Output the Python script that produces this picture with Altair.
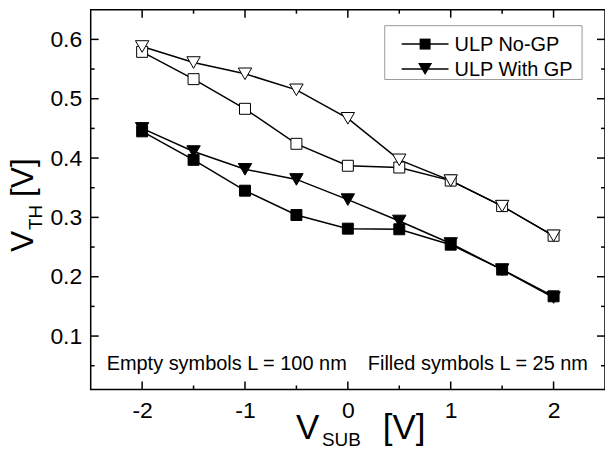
import altair as alt
import pandas as pd

# ---------------- data ----------------
x_vsub = [-2, -1.5, -1, -0.5, 0, 0.5, 1, 1.5, 2]
vth_nogp_100 = [0.579, 0.533, 0.483, 0.424, 0.387, 0.384, 0.362, 0.319, 0.269]
vth_gp_100 = [0.588, 0.561, 0.542, 0.515, 0.467, 0.397, 0.362, 0.319, 0.269]
vth_nogp_25 = [0.445, 0.397, 0.345, 0.304, 0.281, 0.280, 0.254, 0.212, 0.167]
vth_gp_25 = [0.450, 0.411, 0.381, 0.364, 0.330, 0.294, 0.256, 0.212, 0.165]
series_names = ["ULP No-GP", "ULP With GP"]
lengths = ["100 nm", "25 nm"]
x_major = [-2, -1, 0, 1, 2]
x_minor = [-1.5, -0.5, 0.5, 1.5]
y_major = [0.1, 0.2, 0.3, 0.4, 0.5, 0.6]
y_minor = [0.05, 0.15, 0.25, 0.35, 0.45, 0.55]
note_left = "Empty symbols L = 100 nm"
note_right = "Filled symbols L = 25 nm"

W, H = 516, 381
FONT = "Liberation Sans"

rows = []
for name, L, vals in [
    (series_names[0], lengths[0], vth_nogp_100),
    (series_names[1], lengths[0], vth_gp_100),
    (series_names[0], lengths[1], vth_nogp_25),
    (series_names[1], lengths[1], vth_gp_25),
]:
    for xv, yv in zip(x_vsub, vals):
        rows.append({"vsub": xv, "vth": yv, "series": name, "L": L, "key": name + " " + L})
df = pd.DataFrame(rows)

xs = alt.Scale(domain=[-2.5, 2.5], nice=False, zero=False)
ys = alt.Scale(domain=[0.01, 0.65], nice=False, zero=False)

x_axis = alt.Axis(values=x_major, labelExpr="'' + datum.value", ticks=False, domain=False,
                  grid=False, title=None, labelFont=FONT, labelFontSize=23,
                  labelColor="black", labelPadding=10)
y_axis = alt.Axis(values=y_major, labelExpr="format(datum.value, '.1f')", ticks=False,
                  domain=False, grid=False, title=None, labelFont=FONT, labelFontSize=23,
                  labelColor="black", labelPadding=9)

base = alt.Chart(df)
lines = base.mark_line(color="black", strokeWidth=1.5).encode(
    x=alt.X("vsub:Q", scale=xs, axis=x_axis),
    y=alt.Y("vth:Q", scale=ys, axis=y_axis),
    detail="key:N",
)
points = base.mark_point(opacity=1, strokeWidth=1).encode(
    x=alt.X("vsub:Q", scale=xs, axis=x_axis),
    y=alt.Y("vth:Q", scale=ys, axis=y_axis),
    shape=alt.Shape("series:N", scale=alt.Scale(domain=series_names, range=["square", "triangle-down"]), legend=None),
    size=alt.Size("series:N", scale=alt.Scale(domain=series_names, range=[121, 180]), legend=None),
    fill=alt.Fill("L:N", scale=alt.Scale(domain=lengths, range=["white", "black"]), legend=None),
    stroke=alt.value("black"),
)

# ---------------- inward ticks ----------------
def xticks(vals, length):
    d = alt.Chart(pd.DataFrame({"vsub": vals}))
    enc = dict(x=alt.X("vsub:Q", scale=xs, axis=x_axis))
    bot = d.mark_rule(color="black", strokeWidth=1.5).encode(y=alt.value(H), y2=alt.value(H - length), **enc)
    top = d.mark_rule(color="black", strokeWidth=1.5).encode(y=alt.value(0), y2=alt.value(length), **enc)
    return [bot, top]

def yticks(vals, length):
    d = alt.Chart(pd.DataFrame({"vth": vals}))
    enc = dict(y=alt.Y("vth:Q", scale=ys, axis=y_axis))
    left = d.mark_rule(color="black", strokeWidth=1.5).encode(x=alt.value(0), x2=alt.value(length), **enc)
    right = d.mark_rule(color="black", strokeWidth=1.5).encode(x=alt.value(W), x2=alt.value(W - length), **enc)
    return [left, right]

tick_layers = xticks(x_major, 8) + xticks(x_minor, 4) + yticks(y_major, 8) + yticks(y_minor, 4)

# ---------------- text helpers ----------------
def label(txt, x, y, size, angle=0, align="left", baseline="alphabetic"):
    kw = dict(align=align, baseline=baseline, font=FONT, fontSize=size, color="black")
    if angle:
        kw["angle"] = angle
    return alt.Chart(pd.DataFrame({"t": [txt]})).mark_text(**kw).encode(
        text="t:N", x=alt.value(x), y=alt.value(y))

titles = [
    # x title  V_SUB [V]
    label("V", 206, 431, 35),
    label("SUB", 232, 438, 19),
    label("[V]", 293, 431, 35),
    # y title  V_TH [V]
    label("V", -58, 243, 32, angle=270),
    label("TH", -49, 221, 19, angle=270),
    label("[V]", -58, 188, 32, angle=270),
]

notes = [
    label(note_left, 16, 361, 20),
    label(note_right, 278, 361, 20),
]

# ---------------- legend (inside plot, top right) ----------------
legend_box = alt.Chart(pd.DataFrame({"a": [0]})).mark_rect(
    fill="white", stroke="#9a9a9a", strokeWidth=1).encode(
    x=alt.value(295), x2=alt.value(493), y=alt.value(16), y2=alt.value(70))

legend_layers = [legend_box]
for i, (name, shp, sz) in enumerate(zip(series_names, ["square", "triangle-down"], [121, 200])):
    yy = 34.5 + 25 * i
    d = alt.Chart(pd.DataFrame({"t": [name]}))
    legend_layers.append(d.mark_rule(color="black", strokeWidth=1.5).encode(
        x=alt.value(312), x2=alt.value(359), y=alt.value(yy)))
    legend_layers.append(d.mark_point(shape=shp, size=sz, filled=True, color="black", opacity=1).encode(
        x=alt.value(335.5), y=alt.value(yy)))
    legend_layers.append(d.mark_text(align="left", baseline="middle", font=FONT, fontSize=20,
                                     color="black").encode(text="t:N", x=alt.value(365), y=alt.value(yy + 1)))

chart = alt.layer(lines, points, *tick_layers, *titles, *notes, *legend_layers).properties(
    width=W, height=H,
    padding={"left": 91, "top": 9, "right": 0, "bottom": 453 - 9 - H},
    autosize=alt.AutoSizeParams(type="none"),
).configure_view(stroke="black", strokeWidth=1.5)

chart.save("out.html", embed_options={"renderer": "svg", "actions": False})
